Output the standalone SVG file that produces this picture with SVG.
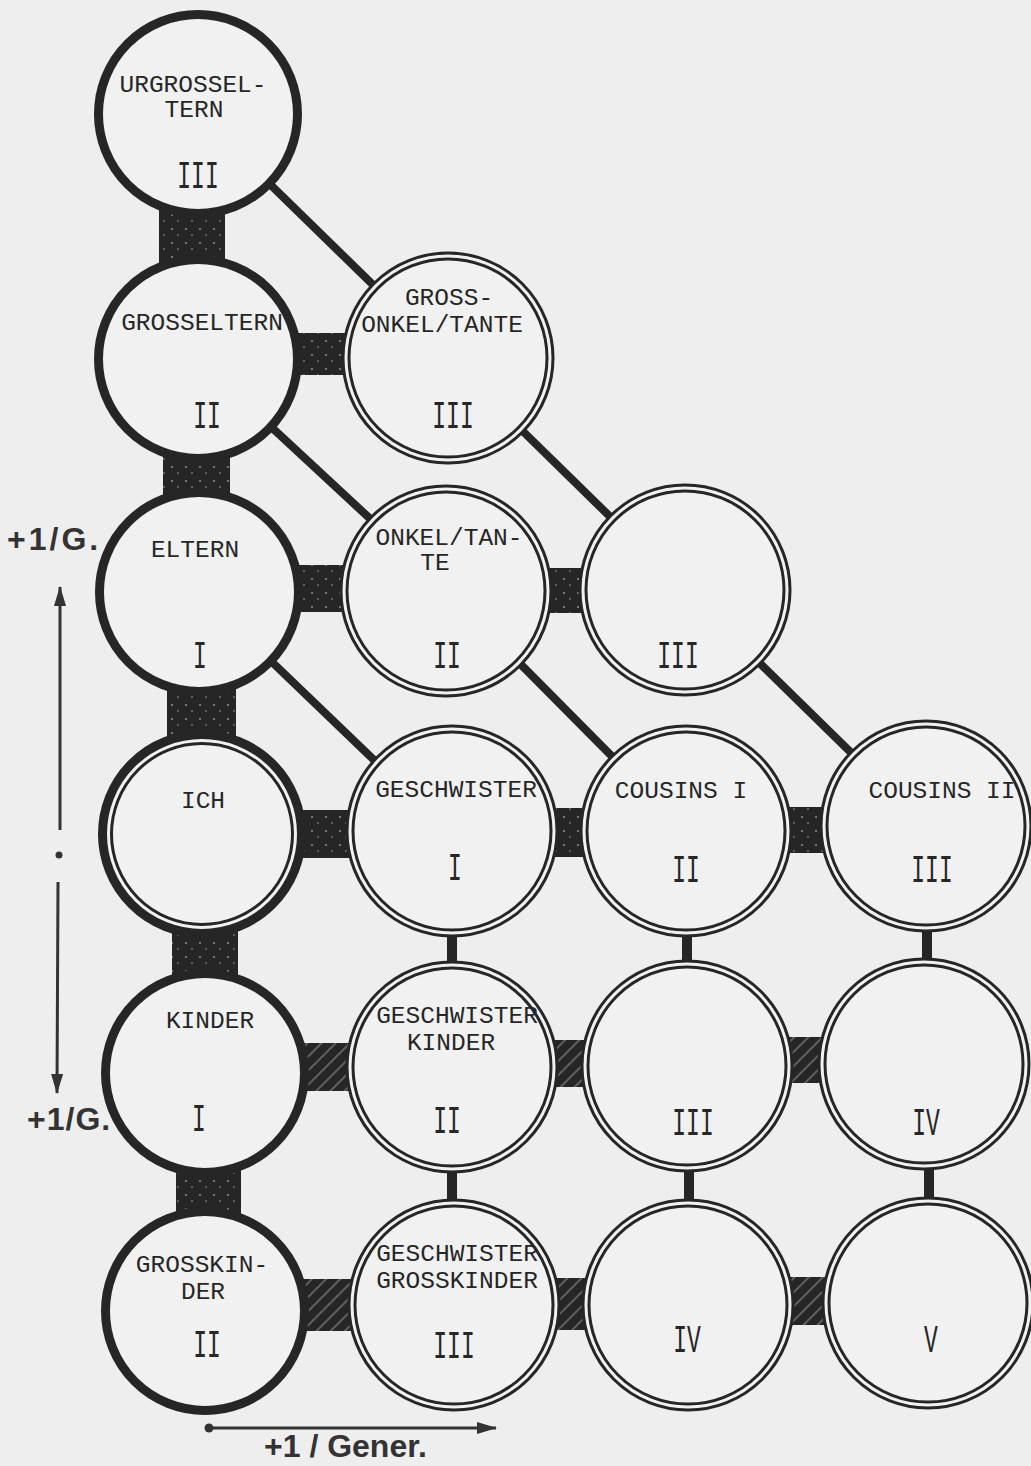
<svg xmlns="http://www.w3.org/2000/svg" width="1031" height="1466" viewBox="0 0 1031 1466">
<style>
.bg{fill:#eeeeee}
.thick{fill:#f1f1f1;stroke:#262626;stroke-width:9}
.dbl{fill:#f1f1f1;stroke:#262626;stroke-width:9}
.gap{fill:none;stroke:#f1f1f1;stroke-width:3}
.ich{fill:#f1f1f1;stroke:#262626;stroke-width:15}
.lbl{font-family:"Liberation Mono","Courier New",monospace;font-size:24.5px;fill:#262626;text-anchor:middle}
.num{font-family:"Liberation Mono","Courier New",monospace;font-size:23px;fill:#262626;text-anchor:middle}
.diag{stroke:#262626;stroke-width:8;stroke-linecap:butt}
.blk{fill:#262626}
.spk{fill:url(#speck)}
.hat{fill:url(#hatch)}
.axis{font-family:"Liberation Sans",Arial,sans-serif;font-weight:bold;font-size:32px;fill:#333333}
.arr{stroke:#333333;stroke-width:3;fill:none}
</style>
<defs>
<pattern id="speck" width="14" height="14" patternUnits="userSpaceOnUse">
<rect width="14" height="14" fill="#262626"/>
<circle cx="4" cy="5" r="1.1" fill="#8a8a8a"/>
<circle cx="10" cy="11" r="0.9" fill="#777777"/>
</pattern>
<pattern id="hatch" width="10" height="10" patternUnits="userSpaceOnUse" patternTransform="rotate(-45)">
<rect width="10" height="10" fill="#262626"/>
<line x1="0" y1="5" x2="10" y2="5" stroke="#6e6e6e" stroke-width="1.6"/>
</pattern>
<marker id="ah" viewBox="0 0 20 12" refX="19" refY="6" markerWidth="20" markerHeight="12" markerUnits="userSpaceOnUse" orient="auto">
<path d="M0,0 L20,6 L0,12 Z" fill="#333333"/>
</marker>
</defs>
<rect class="bg" x="0" y="0" width="1031" height="1466"/>

<g id="connectors">
<line class="diag" x1="198" y1="114" x2="448" y2="358"/>
<line class="diag" x1="198" y1="359" x2="448" y2="591"/>
<line class="diag" x1="448" y1="358" x2="685" y2="590"/>
<line class="diag" x1="199" y1="592" x2="448" y2="831"/>
<line class="diag" x1="448" y1="591" x2="686" y2="831"/>
<line class="diag" x1="685" y1="590" x2="926" y2="826"/>
<rect class="spk" x="159" y="200" width="66" height="68"/>
<rect class="spk" x="163" y="440" width="67" height="65"/>
<rect class="spk" x="167" y="680" width="69" height="70"/>
<rect class="spk" x="172" y="920" width="66" height="65"/>
<rect class="spk" x="176" y="1160" width="65" height="62"/>
<rect class="spk" x="290" y="333" width="60" height="42"/>
<rect class="spk" x="290" y="565" width="60" height="47"/>
<rect class="spk" x="540" y="568" width="50" height="45"/>
<rect class="spk" x="295" y="810" width="60" height="48"/>
<rect class="spk" x="540" y="808" width="50" height="49"/>
<rect class="spk" x="780" y="807" width="50" height="46"/>
<rect class="hat" x="295" y="1043" width="60" height="48"/>
<rect class="hat" x="540" y="1040" width="50" height="47"/>
<rect class="hat" x="780" y="1037" width="50" height="46"/>
<rect class="hat" x="295" y="1279" width="60" height="52"/>
<rect class="hat" x="540" y="1278" width="50" height="52"/>
<rect class="hat" x="780" y="1277" width="50" height="48"/>
<rect class="blk" x="447" y="925" width="10" height="45"/>
<rect class="blk" x="447" y="1165" width="10" height="45"/>
<rect class="blk" x="682" y="925" width="10" height="45"/>
<rect class="blk" x="684" y="1163" width="10" height="45"/>
<rect class="blk" x="922" y="922" width="10" height="45"/>
<rect class="blk" x="924" y="1160" width="10" height="45"/>
</g>

<g id="urgrosseltern">
<circle class="thick" cx="198" cy="114" r="99.5"/>
<text class="lbl" x="193" y="92">URGROSSEL-</text>
<text class="lbl" x="194" y="117">TERN</text>
<text class="num" transform="translate(198,188) scale(1,1.7)">III</text>
</g>
<g id="grosseltern">
<circle class="thick" cx="198" cy="359" r="99.5"/>
<text class="lbl" x="202" y="330">GROSSELTERN</text>
<text class="num" transform="translate(207,428) scale(1,1.7)">II</text>
</g>
<g id="eltern">
<circle class="thick" cx="199" cy="592" r="99.5"/>
<text class="lbl" x="195" y="557">ELTERN</text>
<text class="num" transform="translate(200,668) scale(1,1.7)">I</text>
</g>
<g id="ich">
<circle class="ich" cx="202" cy="834" r="96.5"/>
<circle class="gap" cx="202" cy="834" r="93.5"/>
<text class="lbl" x="203" y="808">ICH</text>
</g>
<g id="kinder">
<circle class="thick" cx="205" cy="1073" r="99.5"/>
<text class="lbl" x="210" y="1028">KINDER</text>
<text class="num" transform="translate(199,1131) scale(1,1.7)">I</text>
</g>
<g id="grosskinder">
<circle class="thick" cx="205" cy="1311" r="99.5"/>
<text class="lbl" x="202" y="1272">GROSSKIN-</text>
<text class="lbl" x="203" y="1299">DER</text>
<text class="num" transform="translate(207,1357) scale(1,1.7)">II</text>
</g>

<g id="grossonkel">
<circle class="dbl" cx="448" cy="358" r="102"/>
<circle class="gap" cx="448" cy="358" r="102"/>
<text class="lbl" x="449" y="305">GROSS-</text>
<text class="lbl" x="442" y="332">ONKEL/TANTE</text>
<text class="num" transform="translate(453,428) scale(1,1.7)">III</text>
</g>
<g id="onkeltante">
<circle class="dbl" cx="446" cy="591" r="102"/>
<circle class="gap" cx="446" cy="591" r="102"/>
<text class="lbl" x="449" y="545">ONKEL/TAN-</text>
<text class="lbl" x="435" y="570">TE</text>
<text class="num" transform="translate(447,668) scale(1,1.7)">II</text>
</g>
<g id="geschwister">
<circle class="dbl" cx="452" cy="831" r="102"/>
<circle class="gap" cx="452" cy="831" r="102"/>
<text class="lbl" x="456" y="797">GESCHWISTER</text>
<text class="num" transform="translate(455,880) scale(1,1.7)">I</text>
</g>
<g id="geschwisterkinder">
<circle class="dbl" cx="452" cy="1067" r="102"/>
<circle class="gap" cx="452" cy="1067" r="102"/>
<text class="lbl" x="457" y="1023">GESCHWISTER</text>
<text class="lbl" x="451" y="1050">KINDER</text>
<text class="num" transform="translate(447,1133) scale(1,1.7)">II</text>
</g>
<g id="geschwistergrosskinder">
<circle class="dbl" cx="454" cy="1305" r="102"/>
<circle class="gap" cx="454" cy="1305" r="102"/>
<text class="lbl" x="457" y="1261">GESCHWISTER</text>
<text class="lbl" x="457" y="1288">GROSSKINDER</text>
<text class="num" transform="translate(454,1358) scale(1,1.7)">III</text>
</g>

<g id="c3-row2">
<circle class="dbl" cx="685" cy="590" r="102"/>
<circle class="gap" cx="685" cy="590" r="102"/>
<text class="num" transform="translate(678,668) scale(1,1.7)">III</text>
</g>
<g id="cousins1">
<circle class="dbl" cx="686" cy="831" r="102"/>
<circle class="gap" cx="686" cy="831" r="102"/>
<text class="lbl" x="681" y="798">COUSINS I</text>
<text class="num" transform="translate(686,882) scale(1,1.7)">II</text>
</g>
<g id="c3-row4">
<circle class="dbl" cx="687" cy="1066" r="102"/>
<circle class="gap" cx="687" cy="1066" r="102"/>
<text class="num" transform="translate(693,1135) scale(1,1.7)">III</text>
</g>
<g id="c3-row5">
<circle class="dbl" cx="688" cy="1305" r="102"/>
<circle class="gap" cx="688" cy="1305" r="102"/>
<text class="num" transform="translate(687,1352) scale(1,1.7)">IV</text>
</g>

<g id="cousins2">
<circle class="dbl" cx="926" cy="826" r="102"/>
<circle class="gap" cx="926" cy="826" r="102"/>
<text class="lbl" x="942" y="798">COUSINS II</text>
<text class="num" transform="translate(932,882) scale(1,1.7)">III</text>
</g>
<g id="c4-row4">
<circle class="dbl" cx="924" cy="1064" r="102"/>
<circle class="gap" cx="924" cy="1064" r="102"/>
<text class="num" transform="translate(926,1135) scale(1,1.7)">IV</text>
</g>
<g id="c4-row5">
<circle class="dbl" cx="928" cy="1303" r="102"/>
<circle class="gap" cx="928" cy="1303" r="102"/>
<text class="num" transform="translate(931,1352) scale(1,1.7)">V</text>
</g>

<g id="axes">
<text class="axis" x="7" y="550" letter-spacing="3">+1/G.</text>
<line class="arr" x1="60" y1="830" x2="60" y2="587" marker-end="url(#ah)"/>
<circle cx="59" cy="855" r="3.5" fill="#333333"/>
<line class="arr" x1="58" y1="882" x2="57" y2="1093" marker-end="url(#ah)"/>
<text class="axis" x="27" y="1130" letter-spacing="1">+1/G.</text>
<circle cx="209" cy="1428" r="4.5" fill="#333333"/>
<line class="arr" x1="207" y1="1428" x2="496" y2="1428" marker-end="url(#ah)"/>
<text class="axis" x="264" y="1457" font-size="34">+1 / Gener.</text>
</g>
</svg>
